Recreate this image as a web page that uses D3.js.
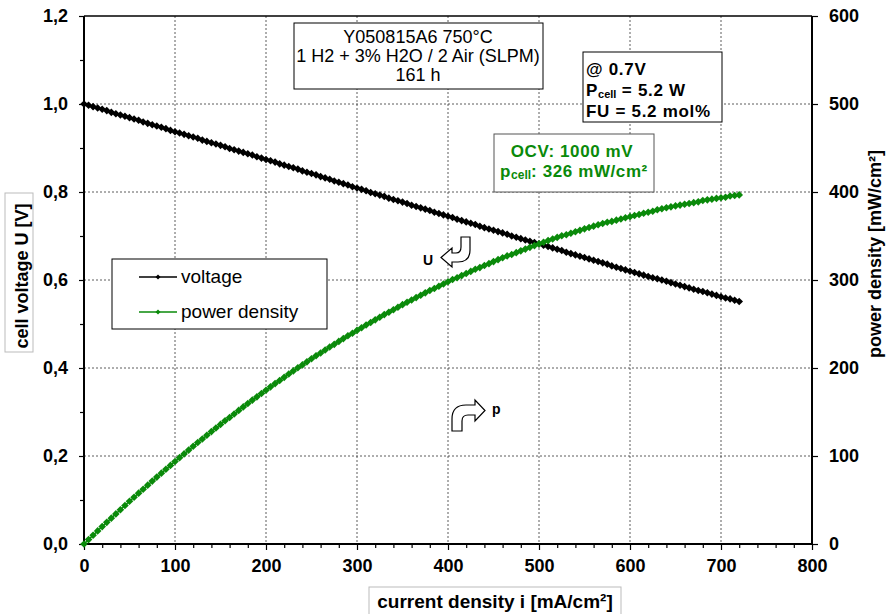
<!DOCTYPE html>
<html>
<head>
<meta charset="utf-8">
<script src="https://cdn.jsdelivr.net/npm/d3@7"></script>
<style>
body { margin: 0; background: #fff; }
text { font-family: "Liberation Sans", Arial, sans-serif; }
</style>
</head>
<body>
<script>
/** data **/
// current density grid [mA/cm2], 5 mA/cm2 steps
var currentDensity = d3.range(0, 721, 5);

// cell voltage [V]
var voltage = [
  1.000, 0.997, 0.994, 0.991, 0.988, 0.985, 0.981, 0.978, 0.975, 0.972, 0.969,
  0.966, 0.963, 0.959, 0.956, 0.953, 0.950, 0.947, 0.944, 0.940, 0.937,
  0.934, 0.931, 0.928, 0.925, 0.922, 0.918, 0.915, 0.912, 0.909, 0.906,
  0.903, 0.899, 0.896, 0.893, 0.890, 0.887, 0.884, 0.880, 0.877, 0.874,
  0.871, 0.868, 0.864, 0.861, 0.858, 0.855, 0.852, 0.848, 0.845, 0.842,
  0.839, 0.835, 0.832, 0.829, 0.825, 0.822, 0.819, 0.816, 0.812, 0.809,
  0.806, 0.803, 0.799, 0.796, 0.793, 0.790, 0.786, 0.783, 0.780, 0.777,
  0.774, 0.770, 0.767, 0.764, 0.761, 0.758, 0.754, 0.751, 0.748, 0.745,
  0.742, 0.738, 0.735, 0.732, 0.729, 0.726, 0.722, 0.719, 0.716, 0.713,
  0.710, 0.707, 0.704, 0.700, 0.697, 0.694, 0.691, 0.688, 0.685, 0.682,
  0.679, 0.676, 0.673, 0.670, 0.667, 0.663, 0.660, 0.657, 0.654, 0.651,
  0.648, 0.645, 0.642, 0.639, 0.636, 0.632, 0.629, 0.626, 0.623, 0.620,
  0.617, 0.614, 0.611, 0.608, 0.605, 0.603, 0.600, 0.597, 0.594, 0.591,
  0.588, 0.585, 0.582, 0.579, 0.576, 0.574, 0.571, 0.568, 0.565, 0.562,
  0.559, 0.557, 0.554, 0.551
];

// power density [mW/cm2]
var powerDensity = [
  0.0, 5.0, 9.9, 14.9, 19.8, 24.6, 29.4, 34.2, 39.0, 43.7, 48.5,
  53.1, 57.8, 62.3, 66.9, 71.5, 76.0, 80.5, 85.0, 89.3, 93.7,
  98.1, 102.4, 106.7, 111.0, 115.3, 119.3, 123.5, 127.7, 131.8, 135.9,
  140.0, 143.8, 147.8, 151.8, 155.8, 159.7, 163.5, 167.2, 171.0, 174.8,
  178.6, 182.3, 185.8, 189.4, 193.1, 196.7, 200.2, 203.5, 207.0, 210.5,
  214.0, 217.1, 220.5, 223.8, 226.9, 230.2, 233.4, 236.6, 239.5, 242.7,
  245.8, 248.9, 251.7, 254.7, 257.7, 260.7, 263.3, 266.2, 269.1, 272.0,
  274.8, 277.2, 280.0, 282.7, 285.4, 288.0, 290.3, 292.9, 295.5, 298.0,
  300.5, 302.6, 305.0, 307.4, 309.8, 312.2, 314.1, 316.4, 318.6, 320.9,
  323.1, 325.2, 327.4, 329.0, 331.1, 333.1, 335.1, 337.1, 339.1, 341.0,
  342.9, 344.8, 346.6, 348.4, 350.2, 351.4, 353.1, 354.8, 356.4, 358.1,
  359.6, 361.2, 362.7, 364.2, 365.7, 366.6, 368.0, 369.3, 370.7, 372.0,
  373.3, 374.5, 375.8, 377.0, 378.1, 379.9, 381.0, 382.1, 383.1, 384.2,
  385.1, 386.1, 387.0, 387.9, 388.8, 390.3, 391.1, 391.9, 392.7, 393.4,
  394.1, 395.5, 396.1, 396.7
];

// ticks
var xTicks = [0, 100, 200, 300, 400, 500, 600, 700, 800];
var xMinor = [20, 40, 60, 80, 120, 140, 160, 180, 220, 240, 260, 280, 320, 340, 360, 380,
              420, 440, 460, 480, 520, 540, 560, 580, 620, 640, 660, 680, 720, 740, 760, 780];
var uTicks = [0, 0.2, 0.4, 0.6, 0.8, 1.0, 1.2];
var uMinor = [0.1, 0.3, 0.5, 0.7, 0.9, 1.1];
var pTicks = [0, 100, 200, 300, 400, 500, 600];

// annotation texts
var titleLines = ["Y050815A6 750°C", "1 H2 + 3% H2O / 2 Air (SLPM)", "161 h"];
var seriesNames = ["voltage", "power density"];

var width = 887, height = 614;
var green = "#0a8a0a";

var svg = d3.select("body").append("svg")
    .attr("width", width).attr("height", height);

var x = d3.scaleLinear().domain([0, 800]).range([84, 812]);
var yU = d3.scaleLinear().domain([0, 1.2]).range([544, 16]);
var yP = d3.scaleLinear().domain([0, 600]).range([544, 16]);

var comma = d => d3.format(".1f")(d).replace(".", ",");

/** grid **/
svg.append("g").selectAll("line")
    .data(xTicks.slice(1, -1))
    .enter().append("line")
    .attr("x1", d => x(d)).attr("x2", d => x(d))
    .attr("y1", yU(1.2)).attr("y2", yU(0))
    .attr("stroke", "#333").attr("stroke-width", 0.8).attr("stroke-dasharray", "2,2");
svg.append("g").selectAll("line")
    .data(uTicks.slice(1, -1))
    .enter().append("line")
    .attr("x1", x(0)).attr("x2", x(800))
    .attr("y1", d => yU(d)).attr("y2", d => yU(d))
    .attr("stroke", "#333").attr("stroke-width", 0.8).attr("stroke-dasharray", "2,2");

/** axes **/
function styleAxis(g) {
    g.select(".domain").remove();
    g.selectAll(".tick line").attr("stroke", "#000").attr("stroke-width", 1.2);
    g.selectAll(".tick text")
        .attr("font-size", 18).attr("font-weight", "bold").attr("fill", "#000");
}

svg.append("g").attr("transform", "translate(0,544)")
    .call(d3.axisBottom(x).tickValues(xTicks).tickSize(6).tickPadding(9))
    .call(styleAxis);
svg.append("g").attr("transform", "translate(0,544)")
    .call(d3.axisBottom(x).tickValues(xMinor).tickSize(4).tickFormat(""))
    .call(styleAxis);

svg.append("g").attr("transform", "translate(84,0)")
    .call(d3.axisLeft(yU).tickValues(uTicks).tickSize(5).tickPadding(11).tickFormat(comma))
    .call(styleAxis);
svg.append("g").attr("transform", "translate(84,0)")
    .call(d3.axisLeft(yU).tickValues(uMinor).tickSize(4).tickFormat(""))
    .call(styleAxis);

svg.append("g").attr("transform", "translate(812,0)")
    .call(d3.axisRight(yP).tickValues(pTicks).tickSize(6).tickPadding(11))
    .call(styleAxis);

// frame
svg.append("line").attr("x1", 84).attr("x2", 812).attr("y1", 16).attr("y2", 16)
    .attr("stroke", "#000").attr("stroke-width", 1.5);
svg.append("line").attr("x1", 84).attr("x2", 84).attr("y1", 16).attr("y2", 545)
    .attr("stroke", "#000").attr("stroke-width", 2);
svg.append("line").attr("x1", 812).attr("x2", 812).attr("y1", 16).attr("y2", 545)
    .attr("stroke", "#000").attr("stroke-width", 2);
svg.append("line").attr("x1", 83).attr("x2", 813).attr("y1", 544).attr("y2", 544)
    .attr("stroke", "#000").attr("stroke-width", 2);

/** axis titles **/
svg.append("rect").attr("x", 5).attr("y", 193).attr("width", 28).attr("height", 159)
    .attr("fill", "#fff").attr("stroke", "#bbb");
svg.append("text").attr("transform", "translate(28,276) rotate(-90)")
    .attr("text-anchor", "middle").attr("font-size", 18).attr("font-weight", "bold")
    .text("cell voltage U [V]");

svg.append("rect").attr("x", 369).attr("y", 587).attr("width", 252).attr("height", 32)
    .attr("fill", "#fff").attr("stroke", "#bbb");
svg.append("text").attr("x", 495).attr("y", 608)
    .attr("text-anchor", "middle").attr("font-size", 19).attr("font-weight", "bold")
    .text("current density i [mA/cm²]");

svg.append("text").attr("transform", "translate(881,254) rotate(-90)")
    .attr("text-anchor", "middle").attr("font-size", 18).attr("font-weight", "bold")
    .text("power density [mW/cm²]");

/** info boxes **/
svg.append("rect").attr("x", 294).attr("y", 23).attr("width", 249).attr("height", 66)
    .attr("fill", "#fff").attr("stroke", "#000");
svg.append("g").selectAll("text")
    .data(titleLines)
    .enter().append("text")
    .attr("x", 418).attr("y", (d, i) => 43 + i * 19)
    .attr("text-anchor", "middle").attr("font-size", 18)
    .text(d => d);

svg.append("rect").attr("x", 583).attr("y", 52).attr("width", 139).attr("height", 70)
    .attr("fill", "#fff").attr("stroke", "#000");
var info = svg.append("g").attr("font-size", 17).attr("font-weight", "bold")
    .attr("letter-spacing", 0.7);
info.append("text").attr("x", 586).attr("y", 75).text("@ 0.7V");
var pc = info.append("text").attr("x", 586).attr("y", 96);
pc.append("tspan").text("P");
pc.append("tspan").attr("font-size", 11).attr("dy", 2).attr("letter-spacing", 0).text("cell");
pc.append("tspan").attr("dy", -2).text(" = 5.2 W");
info.append("text").attr("x", 586).attr("y", 117).text("FU = 5.2 mol%");

svg.append("rect").attr("x", 494).attr("y", 134).attr("width", 160).attr("height", 58)
    .attr("fill", "#fff").attr("stroke", "#555");
var ocv = svg.append("g").attr("font-size", 17).attr("font-weight", "bold").attr("fill", green)
    .attr("letter-spacing", 0.6);
ocv.append("text").attr("x", 572).attr("y", 157).attr("text-anchor", "middle").text("OCV: 1000 mV");
var pcell = ocv.append("text").attr("x", 574).attr("y", 177).attr("text-anchor", "middle");
pcell.append("tspan").text("p");
pcell.append("tspan").attr("font-size", 12).attr("dy", 2).attr("letter-spacing", 0).text("cell");
pcell.append("tspan").attr("dy", -2).text(": 326 mW/cm²");

/** legend **/
svg.append("rect").attr("x", 112).attr("y", 259).attr("width", 215).attr("height", 70)
    .attr("fill", "#fff").attr("stroke", "#000");
var diamond = r => "M0," + (-r) + "L" + r + ",0L0," + r + "L" + (-r) + ",0Z";
var legendColors = ["#000", green];
var lg = svg.append("g").selectAll("g")
    .data(seriesNames)
    .enter().append("g")
    .attr("transform", (d, i) => "translate(0," + (277 + i * 35) + ")");
lg.append("line").attr("x1", 139).attr("x2", 177)
    .attr("stroke", (d, i) => legendColors[i]).attr("stroke-width", 1.5);
lg.append("path").attr("d", diamond(2.5)).attr("transform", "translate(158,0)")
    .attr("fill", (d, i) => legendColors[i]);
lg.append("text").attr("x", 181).attr("y", 6).attr("font-size", 19).text(d => d);

/** arrows **/
svg.append("path")
    .attr("d", "M461,237 L470,237 L470,250 Q470,262 458,262 L452,262 L452,267 L441,257.5 L452,248 L452,253 L456,253 Q461,253 461,247 Z")
    .attr("fill", "#fff").attr("stroke", "#000").attr("stroke-width", 1.2);
svg.append("text").attr("x", 423).attr("y", 265).attr("font-size", 14).attr("font-weight", "bold")
    .attr("fill", "#000").text("U");
svg.append("path")
    .attr("d", "M452,431 L462,431 L462,421 Q462,415 468,415 L475,415 L475,421 L485,410.5 L475,400 L475,405 L466,405 Q452,405 452,419 Z")
    .attr("fill", "#fff").attr("stroke", "#000").attr("stroke-width", 1.2);
svg.append("text").attr("x", 492).attr("y", 414).attr("font-size", 14).attr("font-weight", "bold")
    .attr("fill", "#000").text("p");

/** series **/
var uData = currentDensity.map((c, i) => [c, voltage[i]]);
var pData = currentDensity.map((c, i) => [c, powerDensity[i]]);

svg.append("path").datum(uData)
    .attr("d", d3.line().x(d => x(d[0])).y(d => yU(d[1])))
    .attr("fill", "none").attr("stroke", "#000").attr("stroke-width", 1.5);
svg.append("g").selectAll("path")
    .data(uData).enter().append("path")
    .attr("d", diamond(3.8))
    .attr("transform", d => "translate(" + x(d[0]) + "," + yU(d[1]) + ")")
    .attr("fill", "#000");

svg.append("path").datum(pData)
    .attr("d", d3.line().x(d => x(d[0])).y(d => yP(d[1])))
    .attr("fill", "none").attr("stroke", green).attr("stroke-width", 1.5);
svg.append("g").selectAll("path")
    .data(pData).enter().append("path")
    .attr("d", diamond(3.8))
    .attr("transform", d => "translate(" + x(d[0]) + "," + yP(d[1]) + ")")
    .attr("fill", green);
</script>
</body>
</html>
